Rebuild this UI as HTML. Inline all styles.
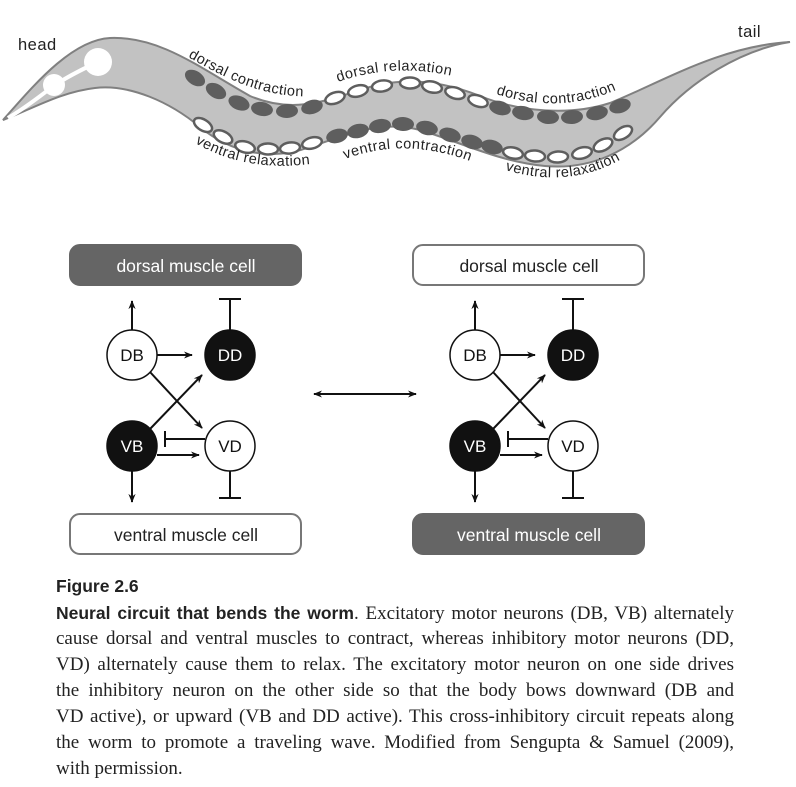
<!DOCTYPE html>
<html><head><meta charset="utf-8">
<style>
html,body{margin:0;padding:0;background:#fff;}
body{width:796px;height:787px;position:relative;overflow:hidden;}
svg{position:absolute;left:0;top:0;}
.cap{position:absolute;left:56px;width:678px;font-family:"Liberation Serif",serif;font-size:19px;color:#222;text-align:justify;text-align-last:justify;white-space:nowrap;line-height:20px;}
.cap.last{text-align-last:left;}
.b{font-family:"Liberation Sans",sans-serif;font-weight:bold;font-size:17.5px;}
</style></head>
<body>
<svg width="796" height="787" viewBox="0 0 796 787">
<defs>
<marker id="ah" viewBox="0 0 10 10" refX="9" refY="5" markerWidth="9" markerHeight="9" orient="auto-start-reverse" markerUnits="userSpaceOnUse"><path d="M0,1 L10,5 L0,9 L3,5 Z" fill="#111"/></marker>
<path id="p1" d="M188,57 C225,78 265,100 322,96"/>
<path id="p2" d="M338,82 Q400,60 468,80"/>
<path id="p3" d="M496,94 Q570,118 636,80"/>
<path id="p4" d="M195,143 Q250,175 324,162"/>
<path id="p5" d="M345,159 Q412,134 487,168"/>
<path id="p6" d="M505,170 Q580,192 638,148"/>
</defs>
<g>
<path d="M3,120 C30,90 70,40 110,38 C160,36 200,68 250,96 C290,113 320,103 360,90 C400,76 440,80 480,96 C520,112 570,116 610,103 C660,83 720,46 790,42 C740,50 690,82 660,117 C630,152 590,170 545,166 C500,162 460,142 420,130 C380,120 350,134 310,147 C270,162 230,152 200,127 C170,102 130,84 95,88 C60,92 30,110 3,120 Z" fill="#c2c2c2" stroke="#808080" stroke-width="2"/>
<path d="M8,118 C30,105 45,92 55,85 C70,75 85,68 98,62" fill="none" stroke="#fff" stroke-width="4"/>
<circle cx="54" cy="85" r="11" fill="#fff"/>
<circle cx="98" cy="62" r="14" fill="#fff"/>
<g id="muscles"></g>
</g>
<g font-family="Liberation Sans, sans-serif" font-size="14.5" fill="#222" letter-spacing="0.5">
<text x="18" y="50" font-size="16.5">head</text>
<text x="738" y="37" font-size="16.5">tail</text>
<text><textPath href="#p1">dorsal contraction</textPath></text>
<text><textPath href="#p2">dorsal relaxation</textPath></text>
<text><textPath href="#p3">dorsal contraction</textPath></text>
<text><textPath href="#p4">ventral relaxation</textPath></text>
<text><textPath href="#p5">ventral contraction</textPath></text>
<text><textPath href="#p6">ventral relaxation</textPath></text>
</g>
<g id="panels" font-family="Liberation Sans, sans-serif"></g>
<line x1="314" y1="394" x2="416" y2="394" stroke="#111" stroke-width="2" marker-start="url(#ah)" marker-end="url(#ah)"/>
</svg>

<div class="cap" style="top:576px;text-align-last:left"><span class="b">Figure 2.6</span></div>
<div class="cap" style="top:603px"><span class="b">Neural circuit that bends the worm</span>. Excitatory motor neurons (DB, VB) alternately</div>
<div class="cap" style="top:629px">cause dorsal and ventral muscles to contract, whereas inhibitory motor neurons (DD,</div>
<div class="cap" style="top:655px">VD) alternately cause them to relax. The excitatory motor neuron on one side drives</div>
<div class="cap" style="top:681px">the inhibitory neuron on the other side so that the body bows downward (DB and</div>
<div class="cap" style="top:707px">VD active), or upward (VB and DD active). This cross-inhibitory circuit repeats along</div>
<div class="cap" style="top:733px">the worm to promote a traveling wave. Modified from Sengupta &amp; Samuel (2009),</div>
<div class="cap last" style="top:759px">with permission.</div>

<script>
const NS="http://www.w3.org/2000/svg";
// muscle rows: [x, y, contracted(1)/relaxed(0)]
const dorsalRow=[[195,78,1],[216,91,1],[239,103,1],[262,109,1],[287,111,1],[312,107,1],[335,98,0],[358,91,0],[382,86,0],[410,83,0],[432,87,0],[455,93,0],[478,101,0],[500,108,1],[523,113,1],[548,117,1],[572,117,1],[597,113,1],[620,106,1]];
const ventralRow=[[203,125,0],[223,137,0],[245,147,0],[268,149,0],[290,148,0],[312,143,0],[337,136,1],[358,131,1],[380,126,1],[403,124,1],[427,128,1],[450,135,1],[472,142,1],[492,147,1],[513,153,0],[535,156,0],[558,157,0],[582,153,0],[603,145,0],[623,133,0]];
const mg=document.getElementById('muscles');
function drawRow(row,name){
  row.forEach((m,i)=>{
    const a=row[Math.max(0,i-1)], b=row[Math.min(row.length-1,i+1)];
    const ang=Math.atan2(b[1]-a[1],b[0]-a[0])*180/Math.PI;
    const e=document.createElementNS(NS,'ellipse');
    
    
    e.setAttribute('cx',m[0]);e.setAttribute('cy',m[1]);
    e.setAttribute('rx',m[2]?11:10);e.setAttribute('ry',m[2]?7:5.5);
    e.setAttribute('transform','rotate('+ang+' '+m[0]+' '+m[1]+')');
    e.setAttribute('fill',m[2]?'#5e5e5e':'#fff');
    e.setAttribute('stroke','#5e5e5e');e.setAttribute('stroke-width',m[2]?0:2.5);
    mg.appendChild(e);
  });
}
drawRow(dorsalRow,'dorsal');
drawRow(ventralRow,'ventral');

const pg=document.getElementById('panels');
function el(tag,attrs,parent){const e=document.createElementNS(NS,tag);for(const k in attrs)e.setAttribute(k,attrs[k]);(parent||pg).appendChild(e);return e;}
function panel(ox,dorsalActive,side){
  const g=el('g',{});
  
  
  const boxes=[[245,'dorsal muscle cell',dorsalActive],[514,'ventral muscle cell',!dorsalActive]];
  boxes.forEach(bx=>{
    const r=el('rect',{x:ox+1,y:bx[0],width:231,height:40,rx:10,fill:bx[2]?'#656565':'#fff',stroke:bx[2]?'#656565':'#777','stroke-width':2},g);
    
    
    const t=el('text',{x:ox+117,y:bx[0]+27,'text-anchor':'middle','font-size':17.5,fill:bx[2]?'#fff':'#222'},g);
    t.textContent=bx[1];
    
    
  });
  const L=ox+63, R=ox+161, T=355, B=446;
  const ln=(x1,y1,x2,y2,arrow)=>{const l=el('line',{x1,y1,x2,y2,stroke:'#111','stroke-width':2},g);if(arrow)l.setAttribute('marker-end','url(#ah)');return l;};
  ln(L,T-25,L,301,true);
  ln(R,T-25,R,299); ln(R-11,299,R+11,299);
  ln(L+25,T,L+60,T,true);
  ln(L+18,T+17,R-28,B-18,true);
  ln(L+18,B-17,R-28,T+20,true);
  ln(R-25,B-7,L+33,B-7); ln(L+33,B-15,L+33,B+1);
  ln(L+25,B+9,L+67,B+9,true);
  ln(L,B+25,L,502,true);
  ln(R,B+25,R,498); ln(R-11,498,R+11,498);
  const neurons=[[L,T,'DB',false],[R,T,'DD',true],[L,B,'VB',true],[R,B,'VD',false]];
  neurons.forEach(n=>{
    const c=el('circle',{cx:n[0],cy:n[1],r:25,fill:n[3]?'#111':'#fff',stroke:'#111','stroke-width':1.5},g);
    
    
    const t=el('text',{x:n[0],y:n[1]+6,'text-anchor':'middle','font-size':17,fill:n[3]?'#fff':'#111'},g);
    t.textContent=n[2];
    
    
  });
}
panel(69,true,'left');
panel(412,false,'right');
</script>
</body></html>
